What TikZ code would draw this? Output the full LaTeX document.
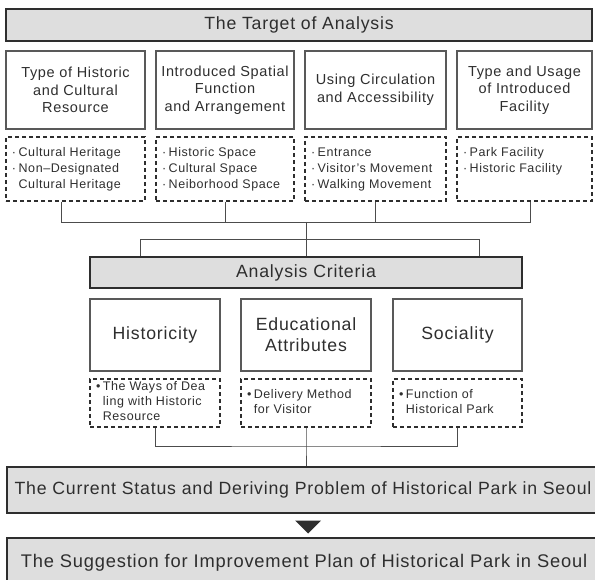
\documentclass[tikz,border=0pt]{standalone}
\usepackage{fontspec}
\setmainfont{Liberation Sans}[LetterSpace=4.5]

\definecolor{ink}{HTML}{2E2E2E}
\definecolor{barfill}{HTML}{DEDEDE}

% bullet list set in a box: width, height (empty = natural), rows
\newcommand{\itemlist}[3]{%
  \begin{minipage}[c][#2][t]{#1}%
  \begin{tabular}{@{}l@{\hspace{2.5pt}}l@{}}#3\end{tabular}%
  \end{minipage}}

\tikzset{
  bar/.style={draw=ink, line width=2pt, fill=barfill, text=ink, inner sep=0pt},
  headbox/.style={draw=black!65, line width=1.8pt, text=ink, align=center, inner sep=0pt},
  listbox/.style={draw=ink, line width=1.6pt, dash pattern=on 4pt off 3pt, text=ink, inner sep=0pt},
  link/.style={black!70, line width=0.9pt},
  bigfont/.style={font=\fontsize{17.7}{21}\selectfont},
  midfont/.style={font=\fontsize{14.5}{17.5}\selectfont},
  listfont/.style={font=\fontsize{12.5}{#1}\selectfont},
  listfont/.default=16,
}

\begin{document}
\begin{tikzpicture}[x=1pt, y=-1pt]
    \clip (0,0) rectangle (595,580);

    % first level: what is analysed
    \node[bar, bigfont, minimum width=586pt, minimum height=32pt] (target) at (299,25) {The Target of Analysis};

    \node[headbox, midfont, minimum width=139pt, minimum height=78pt] (h1) at (75.5,90) {Type of Historic\\and Cultural\\Resource};
    \node[headbox, midfont, minimum width=138pt, minimum height=78pt] (h2) at (225,90) {Introduced Spatial\\Function\\and Arrangement};
    \node[headbox, midfont, minimum width=141pt, minimum height=78pt] (h3) at (375.5,90) {Using Circulation\\and Accessibility};
    \node[headbox, midfont, minimum width=135pt, minimum height=78pt] (h4) at (524.5,90) {Type and Usage\\of Introduced\\Facility};

    \node[listbox, listfont, minimum width=139pt, minimum height=64pt] (l1) at (75.5,169)
        {\itemlist{127pt}{48pt}{· & Cultural Heritage\\ · & Non–Designated\\ & Cultural Heritage}};
    \node[listbox, listfont, minimum width=138pt, minimum height=64pt] (l2) at (225,169)
        {\itemlist{126pt}{48pt}{· & Historic Space\\ · & Cultural Space\\ · & Neiborhood Space}};
    \node[listbox, listfont, minimum width=141pt, minimum height=64pt] (l3) at (375.5,169)
        {\itemlist{129pt}{48pt}{· & Entrance\\ · & Visitor's Movement\\ · & Walking Movement}};
    \node[listbox, listfont, minimum width=135pt, minimum height=64pt] (l4) at (524.5,169)
        {\itemlist{123pt}{48pt}{· & Park Facility\\ · & Historic Facility}};

    % second level: criteria
    \node[bar, bigfont, minimum width=432pt, minimum height=31pt] (crit) at (306,272.5) {Analysis Criteria};

    \node[headbox, bigfont, minimum width=130pt, minimum height=72pt] (k1) at (155,335) {Historicity};
    \node[headbox, bigfont, minimum width=130pt, minimum height=72pt] (k2) at (306,335) {Educational\\Attributes};
    \node[headbox, bigfont, minimum width=129pt, minimum height=72pt] (k3) at (457.5,335) {Sociality};

    \node[listbox, listfont=15, minimum width=130pt, minimum height=48pt] (m1) at (155,403)
        {\itemlist{118pt}{}{• & The Ways of Dea\\ & ling with Historic\\ & Resource}};
    \node[listbox, listfont=15, minimum width=130pt, minimum height=48pt] (m2) at (306,403)
        {\itemlist{118pt}{}{• & Delivery Method\\ & for Visitor}};
    \node[listbox, listfont=15, minimum width=129pt, minimum height=48pt] (m3) at (457.5,403)
        {\itemlist{117pt}{}{• & Function of\\ & Historical Park}};

    % results
    \node[bar, bigfont, minimum width=592pt, minimum height=46pt] (status) at (303,490)
        {The Current Status and Deriving Problem of Historical Park in Seoul};
    \node[bar, font=\fontsize{18.3}{21}\selectfont, minimum width=594pt, minimum height=49pt] (suggest) at (304,562.5)
        {The Suggestion for Improvement Plan of Historical Park in Seoul};

    % connectors
    \coordinate (j1) at (306,222);
    \coordinate (j2) at (306,239);
    \coordinate (j3) at (306,446);
    \coordinate (a1) at ([xshift=-14.5pt]l1.south);
    \coordinate (a4) at ([xshift=5.5pt]l4.south);
    \draw[link] (a1) |- (a4 |- j1) -- (a4);
    \draw[link] (l2.south) -- (l2.south |- j1);
    \draw[link] (l3.south) -- (l3.south |- j1);
    \draw[link] (j1) -- (crit.north);

    \coordinate (b1) at ([xshift=-166pt]crit.north);
    \coordinate (b2) at ([xshift=173pt]crit.north);
    \draw[link] (b1) -- (b1 |- j2) -- (b2 |- j2) -- (b2);

    \draw[link] (m1.south) |- (j3) -| (m3.south);
    \draw[link] (m2.south) -- (j3) -- (j3 |- status.north);

    \fill[ink] (295,520.5) -- (321,520.5) -- (308,533.5) -- cycle;
\end{tikzpicture}
\end{document}
